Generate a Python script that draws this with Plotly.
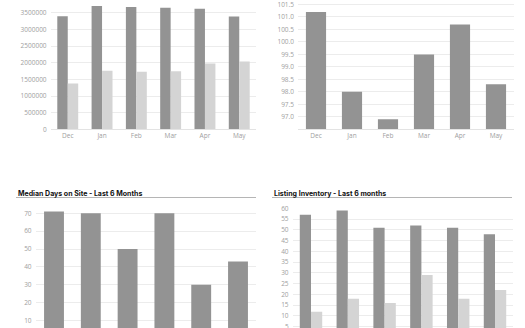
import plotly.graph_objects as go

months = ["Dec", "Jan", "Feb", "Mar", "Apr", "May"]

# Top-left: two price series
price_a = [3400000, 3710000, 3680000, 3660000, 3630000, 3390000]
price_b = [1380000, 1760000, 1730000, 1750000, 1980000, 2040000]
price_ticks = [0, 500000, 1000000, 1500000, 2000000, 2500000, 3000000, 3500000]

# Top-right: ratio series
ratio = [101.2, 98.0, 96.9, 99.5, 100.7, 98.3]
ratio_ticks = [97.0, 97.5, 98.0, 98.5, 99.0, 99.5, 100.0, 100.5, 101.0, 101.5]

# Bottom-left: median days on site
days = [71, 70, 50, 70, 30, 43]
days_ticks = [10, 20, 30, 40, 50, 60, 70]

# Bottom-right: listing inventory
inventory_a = [57, 59, 51, 52, 51, 48]
inventory_b = [12, 18, 16, 29, 18, 22]
inventory_ticks = [0, 5, 10, 15, 20, 25, 30, 35, 40, 45, 50, 55, 60]

titles = ["Median Days on Site - Last 6 Months", "Listing Inventory - Last 6 months"]

W, H = 525, 328
DARK = "#939393"
LIGHT = "#d4d4d4"
GRID = "#ececec"
TICK_FONT = dict(family="Open Sans", size=6.5, color="#a0a0a0")


def px_x(v):
    return v / W


def px_y(v):
    return 1 - v / H


fig = go.Figure()

fig.add_trace(go.Bar(x=months, y=price_a, marker_color=DARK, xaxis="x", yaxis="y"))
fig.add_trace(go.Bar(x=months, y=price_b, marker_color=LIGHT, xaxis="x", yaxis="y"))
fig.add_trace(go.Bar(x=months, y=ratio, marker_color=DARK, xaxis="x2", yaxis="y2", width=0.56))
fig.add_trace(go.Bar(x=months, y=days, marker_color=DARK, xaxis="x3", yaxis="y3", width=0.54))
fig.add_trace(go.Bar(x=months, y=inventory_a, marker_color=DARK, xaxis="x4", yaxis="y4"))
fig.add_trace(go.Bar(x=months, y=inventory_b, marker_color=LIGHT, xaxis="x4", yaxis="y4"))

fig.update_traces(marker_line_width=0, showlegend=False, hoverinfo="skip")

xbase = dict(showgrid=False, tickfont=TICK_FONT, ticks="", zeroline=False,
             showline=True, linecolor="#e3e3e3", linewidth=1, automargin=False)
ybase = dict(showgrid=True, gridcolor=GRID, gridwidth=1, tickfont=TICK_FONT,
             ticks="", zeroline=False, showline=False, ticklabelstandoff=3,
             automargin=False, ticklabeloverflow="allow")

fig.update_layout(
    width=W, height=H,
    margin=dict(l=0, r=0, t=0, b=0),
    paper_bgcolor="white", plot_bgcolor="white",
    barmode="group",
    bargap=0.39,
    xaxis=dict(xbase, domain=[px_x(50.6), px_x(256.4)], anchor="y"),
    yaxis=dict(ybase, domain=[px_y(129.3), 1], anchor="x",
               range=[0, 3890000], tickvals=price_ticks, tickformat="d"),
    xaxis2=dict(xbase, domain=[px_x(298), px_x(514)], anchor="y2"),
    yaxis2=dict(ybase, domain=[px_y(129.3), 1], anchor="x2",
                range=[96.5, 101.68], tickvals=ratio_ticks, tickformat=".1f"),
    # lower panels run past the bottom edge, so their month labels fall off-canvas
    xaxis3=dict(xbase, domain=[px_x(35.6), px_x(256.4)], anchor="y3",
                showline=False, showticklabels=False),
    yaxis3=dict(ybase, domain=[0, px_y(205)], anchor="x3",
                range=[5.9, 74.6], tickvals=days_ticks),
    xaxis4=dict(xbase, domain=[px_x(292.6), px_x(513.4)], anchor="y4",
                showline=False, showticklabels=False),
    yaxis4=dict(ybase, domain=[0, px_y(207.8)], anchor="x4",
                range=[4.4, 60.25], tickvals=inventory_ticks),
)

# Section headings with underline rules
for text, x0, x1 in [(titles[0], 16, 256), (titles[1], 272, 512)]:
    fig.add_annotation(
        text=f"<b>{text}</b>", x=px_x(x0), y=px_y(193), xref="paper", yref="paper",
        xanchor="left", yanchor="middle", showarrow=False,
        font=dict(family="Inter", size=7, color="#111111"),
    )
    fig.add_shape(
        type="line", xref="paper", yref="paper",
        x0=px_x(x0), x1=px_x(x1), y0=px_y(197.5), y1=px_y(197.5),
        line=dict(color="#b5b5b5", width=1),
    )

fig.write_html("out.html")
